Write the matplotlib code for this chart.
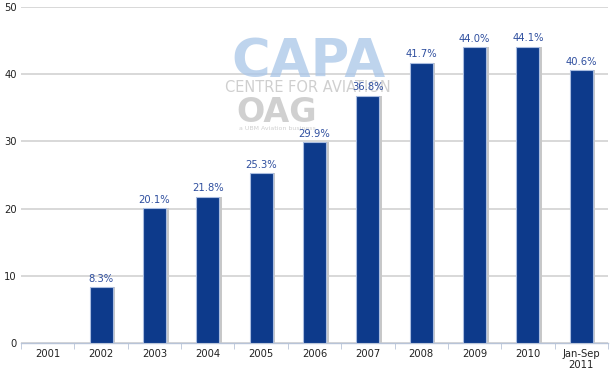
import matplotlib
matplotlib.use("Agg")
from matplotlib import pyplot as plt
import numpy as np

categories = ["2001", "2002", "2003", "2004", "2005", "2006", "2007",
              "2008", "2009", "2010", "Jan-Sep\n2011"]
values = [0, 8.3, 20.1, 21.8, 25.3, 29.9, 36.8, 41.7, 44.0, 44.1, 40.6]
labels = [None, "8.3%", "20.1%", "21.8%", "25.3%", "29.9%", "36.8%",
          "41.7%", "44.0%", "44.1%", "40.6%"]
y_ticks = [0, 10, 20, 30, 40, 50]

plt.rcParams['font.family'] = ['DejaVu Sans']

fig = plt.figure(figsize=(6.1, 3.7), dpi=100)
ax = fig.add_axes([21 / 610, 27 / 370, 587 / 610, 336 / 370])

x = np.arange(len(categories))
width = 0.43

# grey shadow to the right of each bar
ax.bar(x + 0.05, values, width, color="#c8c8c8", zorder=2)
ax.bar(x, values, width, color="#0d3a8b", edgecolor="#aabde0",
       linewidth=0.8, zorder=3)

for xi, v, lab in zip(x, values, labels):
    if lab:
        ax.text(xi, v + 0.5, lab, ha="center", va="bottom",
                fontsize=7.2, color="#2f4f9f", zorder=4)

ax.set_xlim(-0.5, len(categories) - 0.5)
ax.set_ylim(0, 50)
ax.set_yticks(y_ticks)
ax.set_yticklabels([str(t) for t in y_ticks], fontsize=7.2, color="#222222")
ax.set_xticks(x)
ax.set_xticklabels(categories, fontsize=7.2, color="#222222")
ax.set_xticks(np.arange(len(categories) + 1) - 0.5, minor=True)
ax.tick_params(axis="x", which="major", length=0, pad=4)
ax.tick_params(axis="x", which="minor", length=4, color="#b8c4d8")
ax.tick_params(axis="y", length=0, pad=3)

ax.yaxis.grid(True, color="#d6d6d6", linewidth=1.3, zorder=0)
ax.set_axisbelow(True)
for side in ["top", "right", "left"]:
    ax.spines[side].set_visible(False)
ax.spines["bottom"].set_color("#b8c4d8")
ax.spines["bottom"].set_linewidth(1.0)

# watermark, behind the bars and their labels
tf = fig.transFigure
ax.text(308 / 610, 1 - 62 / 370, "CAPA", ha="center", va="center",
        fontsize=38, fontweight="bold", color="#a9c6e8", alpha=0.75,
        zorder=1, transform=tf)
ax.text(308 / 610, 1 - 88 / 370, "CENTRE FOR AVIATION", ha="center",
        va="center", fontsize=10.5, color="#c4c4c4", alpha=0.8,
        zorder=1, transform=tf)
ax.text(277 / 610, 1 - 113 / 370, "OAG", ha="center", va="center",
        fontsize=24, fontweight="bold", color="#bdbdbd", alpha=0.7,
        zorder=1, transform=tf)
ax.text(277 / 610, 1 - 129 / 370, "a UBM Aviation business", ha="center",
        va="center", fontsize=4.5, color="#c4c4c4", alpha=0.8,
        zorder=1, transform=tf)

fig.savefig("out.png", dpi=100)
